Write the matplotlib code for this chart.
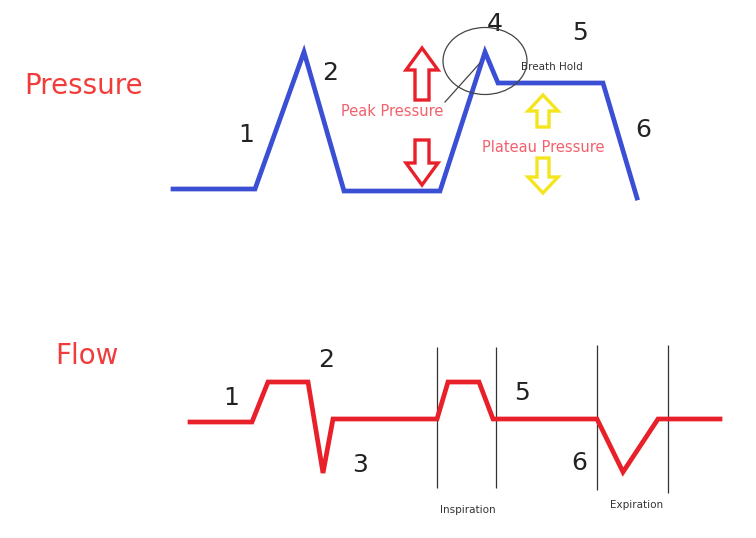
import matplotlib
matplotlib.use("Agg")
import matplotlib.pyplot as plt
from matplotlib.patches import Ellipse

# ---------- data (diagram coordinates, pixel-like units) ----------
pressure_x = [173, 255, 304, 344, 440, 485, 498, 603, 637]
pressure_y = [189, 189, 52, 191, 191, 52, 83, 83, 198]

flow_x = [190, 252, 268, 308, 323, 333, 437, 448, 479, 493, 597, 623, 658, 720]
flow_y = [422, 422, 382, 382, 473, 419, 419, 382, 382, 419, 419, 472, 419, 419]

phase_x = [437, 496, 597, 668]
phase_top = [347, 347, 345, 345]
phase_bottom = [488, 488, 490, 493]

p_labels = ["1", "2", "4", "5", "6"]
p_label_x = [246, 330, 495, 580, 643]
p_label_y = [135, 73, 24, 33, 130]

f_labels = ["1", "2", "3", "5", "6"]
f_label_x = [231, 326, 360, 522, 579]
f_label_y = [398, 360, 465, 393, 463]

# (x, y_start, dy, colour)
arrows = [
    (422, 100, -52, "#e8202a"),
    (422, 140, 45, "#e8202a"),
    (543, 127, -32, "#f5e51c"),
    (543, 158, 35, "#f5e51c"),
]

fig = plt.figure(figsize=(7.56, 5.38), dpi=100)
ax = fig.add_axes([0, 0, 1, 1])
ax.set_xlim(0, 756)
ax.set_ylim(538, 0)
ax.axis("off")

# ---------- pressure trace ----------
ax.plot(pressure_x, pressure_y, color="#3b4fd4", linewidth=3.4,
        solid_joinstyle="miter", zorder=3)
ax.text(84, 86, "Pressure", color="#f23b3b", fontsize=20,
        ha="center", va="center")
for t, x, y in zip(p_labels, p_label_x, p_label_y):
    ax.text(x, y, t, fontsize=18, ha="center", va="center", color="#222222")

for x, y0, dy, c in arrows:
    big = c == "#e8202a"
    ax.arrow(x, y0, 0, dy, width=14 if big else 12,
             head_width=32 if big else 30, head_length=22 if big else 16,
             length_includes_head=True, facecolor="white", edgecolor=c,
             linewidth=2.4, zorder=4)

ax.text(392, 112, "Peak Pressure", color="#f2606c", fontsize=10.5,
        ha="center", va="center", zorder=5)
ax.text(543, 147, "Plateau Pressure", color="#f2606c", fontsize=10.5,
        ha="center", va="center", zorder=5)
ax.text(552, 67, "Breath Hold", color="#333333", fontsize=7.5,
        ha="center", va="center", zorder=5)

ax.add_patch(Ellipse((485, 61), 84, 67, fill=False, edgecolor="#444444",
                     linewidth=0.9, zorder=5))
ax.plot([480, 445], [63, 102], color="#444444", linewidth=0.9, zorder=5)

# ---------- flow trace ----------
ax.plot(flow_x, flow_y, color="#e8202a", linewidth=3.4,
        solid_joinstyle="miter", zorder=3)
ax.text(87, 356, "Flow", color="#f23b3b", fontsize=20,
        ha="center", va="center")
for t, x, y in zip(f_labels, f_label_x, f_label_y):
    ax.text(x, y, t, fontsize=18, ha="center", va="center", color="#222222")

ax.vlines(phase_x, phase_top, phase_bottom, color="#333333", linewidth=0.9,
          zorder=2)
ax.text(468, 510, "Inspiration", fontsize=7.5, ha="center", va="center",
        color="#333333")
ax.text(637, 505, "Expiration", fontsize=7.5, ha="center", va="center",
        color="#333333")

fig.savefig("out.png", dpi=100)
